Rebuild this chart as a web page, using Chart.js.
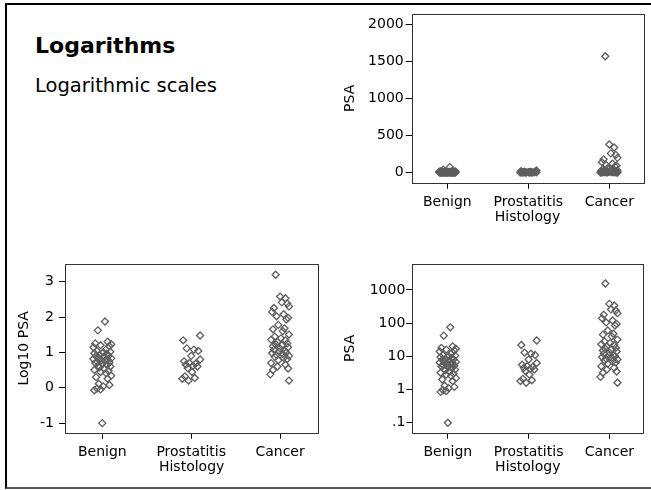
<!DOCTYPE html>
<html>
<head>
<meta charset="utf-8">
<script src="https://cdn.jsdelivr.net/npm/chart.js@4"></script>
<style>
  html, body { margin: 0; padding: 0; background: #fff; }
  body { width: 651px; height: 490px; position: relative; overflow: hidden; font-family: "DejaVu Sans", sans-serif; }
  .frame { position: absolute; left: 5px; top: 3px; width: 680px; height: 482px; border-top: 2px solid #000; border-left: 2px solid #000; border-bottom: 2px solid #555; }
  .title { position: absolute; left: 35px; top: 34.5px; font-size: 22px; line-height: 1; font-weight: bold; color: #000; white-space: nowrap; }
  .subtitle { position: absolute; left: 35px; top: 75.5px; font-size: 19.5px; line-height: 1; color: #000; white-space: nowrap; }
  canvas { position: absolute; }
</style>
</head>
<body>
<div class="frame"></div>
<div class="title">Logarithms</div>
<div class="subtitle">Logarithmic scales</div>
<canvas id="psaChart" width="311" height="240" style="left:340px;top:0px;width:311px;height:240px"></canvas>
<canvas id="log10Chart" width="340" height="240" style="left:0px;top:250px;width:340px;height:240px"></canvas>
<canvas id="logChart" width="321" height="240" style="left:330px;top:250px;width:321px;height:240px"></canvas>
<script>
// categories on the x axis
const categories = ['Benign', 'Prostatitis', 'Cancer'];

// PSA values per histology group
const benignPSA = [75, 42, 20, 18, 17, 16, 15, 14, 12, 11, 10.5, 10, 9.5, 9, 8.5, 8, 7.8, 7.5, 7, 6.8,
    6.5, 6.2, 6, 5.8, 5.5, 5.2, 5, 4.8, 4.5, 4.2, 4, 3.8, 3.5, 3.2, 3, 2.8, 2.6, 2.2, 2, 1.8,
    1.3, 1.2, 1.1, 0.95, 0.9, 0.85, 0.1];
const prostatitisPSA = [30, 22, 13, 12, 11, 8, 6.3, 5.6, 5, 4.8, 4.5, 4.2, 4, 3.6, 2.8, 2.1, 1.9, 1.8, 1.6];
const cancerPSA = [1570, 380, 340, 260, 240, 200, 180, 140, 120, 105, 95, 85, 60, 48, 45, 40, 32, 28, 25, 23,
    22, 20, 18, 17, 16, 15, 14, 13, 12, 11, 10.5, 10, 9.5, 9, 8.5, 8, 7.5, 7, 6.5, 6,
    5, 4.5, 4, 3.5, 3.2, 2.4, 1.6];

// horizontal jitter of each point (in category units)
const benignJitter = [0.03, -0.05, 0.06, -0.08, 0.1, -0.02, 0.08, -0.1, 0.04, -0.06, 0.09, 0.01, -0.09, 0.05, -0.03, 0.07, -0.07, 0.02, -0.04, 0.1,
    -0.1, 0.06, -0.01, 0.03, -0.06, 0.08, -0.08, 0.0, 0.05, -0.05, 0.09, -0.03, 0.02, -0.09, 0.07, -0.02, 0.04, 0.1, -0.07, 0.06,
    -0.04, 0.08, 0.01, -0.06, -0.02, -0.09, 0.0];
const prostatitisJitter = [0.1, -0.09, -0.05, 0.03, 0.08, 0.0, 0.1, -0.08, -0.02, 0.05, -0.06, 0.02, 0.07, -0.04, 0.01, -0.07, 0.04, -0.1, -0.03];
const cancerJitter = [-0.05, 0.0, 0.06, 0.02, 0.08, 0.1, -0.07, -0.09, 0.04, -0.04, 0.09, 0.07, -0.02, 0.05, -0.08, 0.03, 0.1, -0.06, 0.01, -0.1,
    0.06, -0.03, 0.08, -0.05, 0.02, -0.08, 0.09, 0.0, -0.07, 0.05, -0.01, 0.07, -0.09, 0.03, -0.04, 0.1, -0.06, 0.04, 0.08, -0.02,
    -0.1, 0.06, -0.03, 0.09, -0.08, -0.11, 0.1];

// tick values for the y axes
const psaTicks = [0, 500, 1000, 1500, 2000];
const log10Ticks = [-1, 0, 1, 2, 3];
const logTicks = [0.1, 1, 10, 100, 1000];
const logTickLabels = ['.1', '1', '10', '100', '1000'];

const markerColor = '#5e5e5e';
const tickFont = { family: 'DejaVu Sans', size: 14 };

// draw the box round the plot area
const plotFrame = {
    id: 'plotFrame',
    afterDraw(chart) {
        const a = chart.chartArea;
        const ctx = chart.ctx;
        ctx.save();
        ctx.strokeStyle = '#333';
        ctx.lineWidth = 1;
        ctx.strokeRect(Math.round(a.left) + 0.5, Math.round(a.top) + 0.5,
            Math.round(a.right - a.left), Math.round(a.bottom - a.top));
        ctx.restore();
    }
};

function groupPoints(values, jitter, index, transform) {
    return values.map((v, i) => ({ x: index + jitter[i], y: transform(v) }));
}

function makeChart(canvasId, opts) {
    const t = opts.transform;
    const points = []
        .concat(groupPoints(benignPSA, benignJitter, 0, t))
        .concat(groupPoints(prostatitisPSA, prostatitisJitter, 1, t))
        .concat(groupPoints(cancerPSA, cancerJitter, 2, t));

    const ctx = document.getElementById(canvasId).getContext('2d');
    return new Chart(ctx, {
        type: 'scatter',
        data: {
            datasets: [{
                data: points,
                pointStyle: 'rectRot',
                pointRadius: 3.5,
                pointHoverRadius: 3.5,
                borderWidth: 1.3,
                borderColor: markerColor,
                backgroundColor: 'rgba(0,0,0,0)'
            }]
        },
        plugins: [plotFrame],
        options: {
            responsive: false,
            animation: false,
            events: [],
            layout: { padding: { top: 14, right: opts.rightPad, left: 0, bottom: 0 } },
            plugins: { legend: { display: false }, tooltip: { enabled: false } },
            scales: {
                x: {
                    type: 'linear',
                    min: opts.xMin,
                    max: opts.xMax,
                    afterBuildTicks: scale => { scale.ticks = categories.map((c, i) => ({ value: i })); },
                    afterFit: scale => { scale.height = 57.3; },
                    grid: { drawOnChartArea: false, tickLength: 6, color: '#000', tickColor: '#000' },
                    border: { display: false },
                    ticks: {
                        font: tickFont,
                        color: '#000',
                        padding: 5,
                        maxRotation: 0,
                        callback: value => categories[value]
                    },
                    title: {
                        display: true,
                        text: 'Histology',
                        font: tickFont,
                        color: '#000',
                        padding: { top: 0, bottom: 14 }
                    }
                },
                y: {
                    type: opts.yType,
                    min: opts.yMin,
                    max: opts.yMax,
                    afterBuildTicks: scale => { scale.ticks = opts.ticks.map(v => ({ value: v })); },
                    afterFit: scale => { scale.width = opts.yWidth; },
                    grid: { drawOnChartArea: false, tickLength: 6, color: '#000', tickColor: '#000' },
                    border: { display: false },
                    ticks: {
                        font: tickFont,
                        color: '#000',
                        padding: opts.tickPad,
                        callback: opts.tickLabel
                    },
                    title: {
                        display: true,
                        text: opts.yTitle,
                        font: tickFont,
                        color: '#000',
                        padding: { top: opts.titlePad, bottom: 0 }
                    }
                }
            }
        }
    });
}

// PSA on a plain linear scale
makeChart('psaChart', {
    transform: v => v,
    xMin: -0.44, xMax: 2.42,
    yType: 'linear', yMin: -135, yMax: 2139,
    ticks: psaTicks,
    tickLabel: value => String(value),
    yTitle: 'PSA',
    yWidth: 71.7, rightPad: 7.7, tickPad: 2, titlePad: 1.6
});

// log10 of PSA on a linear scale
makeChart('log10Chart', {
    transform: v => Math.log10(v),
    xMin: -0.42, xMax: 2.43,
    yType: 'linear', yMin: -1.27, yMax: 3.5,
    ticks: log10Ticks,
    tickLabel: value => String(value),
    yTitle: 'Log10 PSA',
    yWidth: 65, rightPad: 21.7, tickPad: 5, titlePad: 15.6
});

// PSA on a logarithmic scale
makeChart('logChart', {
    transform: v => v,
    xMin: -0.44, xMax: 2.42,
    yType: 'logarithmic', yMin: 0.05, yMax: 6060,
    ticks: logTicks,
    tickLabel: (value, index) => logTickLabels[index],
    yTitle: 'PSA',
    yWidth: 82.3, rightPad: 7.7, tickPad: 1, titlePad: 12
});
</script>
</body>
</html>
